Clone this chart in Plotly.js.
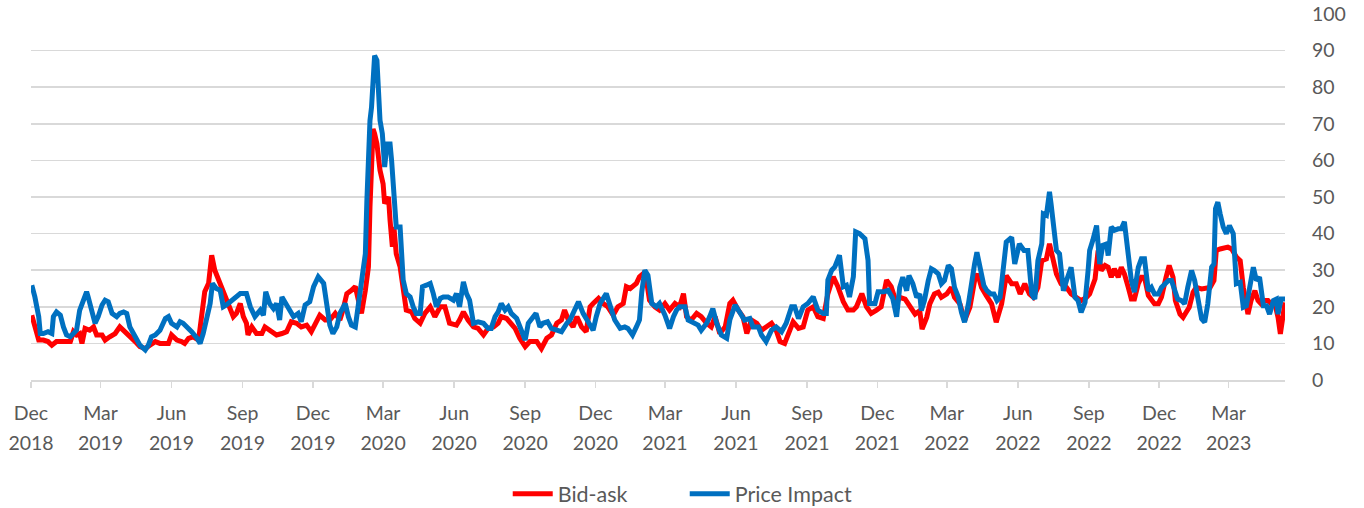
<!DOCTYPE html>
<html>
<head>
<meta charset="utf-8">
<script src="https://cdn.plot.ly/plotly-3.0.1.min.js"></script>
<style>html,body{margin:0;padding:0;background:#fff;}#chart{width:1364px;height:508px;}</style>
</head>
<body>
<div id="chart"></div>
<script>
// Days since 2018-12-01 and values
const bidAskDays = [1,5,10,16,22,27,33,40,46,51,55,59,63,66,70,76,81,85,92,96,102,109,115,122,128,135,141,148,154,161,167,174,178,182,189,195,199,204,210,217,221,225,230,234,238,243,247,251,256,262,266,
271,275,279,281,286,292,299,303,309,318,325,331,337,344,350,357,363,368,374,381,387,394,400,404,409,415,420,424,428,433,437,439,441,443,445,448,452,456,458,463,465,468,470,473,478,482,486,493,497,504,510,517,523,530,536,542,551,
555,560,566,573,579,586,592,599,605,609,616,622,627,633,640,646,655,661,668,674,681,687,691,696,702,707,713,719,724,728,735,741,747,754,760,767,771,776,780,784,788,793,797,801,808,814,821,827,834,
840,845,849,855,862,868,875,881,886,892,899,905,909,916,922,927,933,940,946,952,959,965,970,976,981,987,994,1000,1006,1013,1019,1026,1032,1039,1045,1052,1058,1065,1069,1076,1082,1088,1095,1101,1108,1114,1121,
1125,1132,1138,1145,1151,1154,1160,1164,1170,1175,1179,1186,1192,1196,1203,1209,1216,1222,1226,1231,1237,1244,1250,1257,1263,1270,1276,1281,1287,1293,1298,1304,1309,1315,1319,1324,1328,1334,1341,1347,1354,1360,1367,
1371,1378,1382,1386,1391,1395,1399,1403,1408,1412,1416,1421,1425,1429,1434,1438,1442,1447,1451,1455,1460,1464,1470,1474,1479,1482,1488,1492,1496,1500,1505,1509,1516,1522,1527,1532,1535,1540,1546,1550,1555,1561,1566,1570,1576,1580,1585,1589,1593,1598,1602,1606,1611,1615,1618,1621,1624];
const bidAskValues = [17.7,15,10.9,10.9,10.5,9.5,10.5,10.5,10.5,10.5,13.2,12.3,12.7,10,14.1,13.6,14.5,12.3,12.3,10.9,11.8,12.7,14.5,13.2,11.8,10.5,9.1,8.6,9.5,10.5,10,10,10,12.3,10.9,10.5,10,11.4,11.8,10.9,17.3,24.1,26.4,34.1,30,27.3,25.5,22.7,20.9,17.3,18.2,
20.9,17.3,15.5,12.3,14.5,12.7,12.7,14.5,13.6,12.3,12.7,13.2,15.9,15.5,14.5,15,13.2,15.5,17.7,16.4,16.4,18.2,16.4,19.1,23.6,24.5,25.5,21.8,18.2,24.5,30.9,47.3,56.4,68.6,67.3,64.5,57.3,53.6,48.2,50,43.6,36.4,41.8,34.5,30.9,25.5,19.1,18.6,16.8,15.5,18.2,20,17.3,20,20,15.5,15,
16.4,18.6,16.4,14.5,14.1,12.3,14.1,14.5,15.5,17.3,16.8,15.5,14.1,11.4,9.1,10.5,10.5,8.6,11.4,12.3,15.5,16.4,19.1,16.4,14.5,17.3,14.5,13.2,20,20.9,22.3,20.9,20,17.7,20,20.9,25.5,25,25.9,26.4,28.2,29.1,27.3,21.8,20,19.1,20.9,19.1,20.9,
20,23.6,17.3,16.4,18.2,17.3,15.5,14.5,17.3,12.7,14.5,20.9,21.8,19.1,17.3,12.7,16.4,15.5,13.6,14.5,15.5,13.6,10.5,10,12.7,15.9,14.1,14.5,19.1,20,17.3,16.8,23.6,28.2,25.5,21.4,19.1,19.1,20,23.6,20,18.2,19.1,20,27.3,25.5,20.9,
22.6,22.1,19.9,18,18.9,13.9,17.1,20.8,23.5,24,22.6,23.5,25.3,22.6,20.8,16.2,19.9,27.2,29,25.3,23.1,20.8,15.8,20.8,28.5,26.3,26.3,23.5,26.3,23.5,22.6,25.3,32.6,33.1,37.2,32.6,29,26.3,25.3,23.5,22.6,21.7,22.6,
23.5,27.6,35.4,29.9,31.3,30.8,28.1,30.4,28.1,30.8,29,25.3,22.1,22.1,26.3,28.1,28.1,23.1,21.7,20.8,20.8,22.6,28.1,31.3,28.1,21.7,18,17.1,18.5,19.9,24,25.3,24.9,25.3,25.3,27.2,35.4,35.8,36.3,36.3,35.8,33.6,32.6,25.3,18,21.7,24.4,21.7,20.8,21.7,21.7,20.8,20.8,17.1,12.6,18,21.2];

const priceImpactDays = [1,5,10,12,16,22,27,29,33,38,42,46,51,55,59,63,68,72,74,79,83,87,92,96,100,105,111,115,120,124,128,135,141,148,152,156,161,167,174,178,182,189,193,197,202,208,215,219,223,228,232,235,240,245,249,253,258,264,
271,279,284,290,297,301,304,309,314,318,322,325,331,335,340,346,350,355,361,366,372,379,383,387,391,396,400,407,411,415,420,424,428,433,435,437,439,441,443,445,448,450,452,455,458,461,465,467,470,473,478,480,482,486,491,495,499,504,507,512,517,521,525,530,534,540,547,551,
555,560,564,568,573,579,586,592,596,601,605,609,614,618,622,629,635,640,644,648,654,659,663,669,674,681,687,694,698,702,709,715,722,728,732,737,745,750,756,763,769,773,779,784,788,791,795,799,804,810,814,821,827,832,836,
840,847,851,858,864,868,875,879,883,888,894,901,905,912,918,924,931,935,942,946,952,959,965,972,978,985,989,994,1000,1006,1013,1019,1026,1030,1032,1037,1041,1047,1052,1056,1060,1065,1068,1073,1080,1084,1086,1093,1097,1104,1110,1116,1121,
1125,1129,1134,1137,1142,1147,1151,1153,1157,1162,1166,1170,1175,1179,1183,1188,1192,1196,1201,1205,1209,1214,1218,1222,1225,1230,1234,1238,1243,1247,1251,1255,1259,1263,1270,1274,1280,1286,1291,1296,1300,1304,1309,1311,1315,1319,1321,1324,1328,1332,1337,1341,1347,1352,1356,1360,1365,1369,
1371,1375,1380,1384,1388,1393,1395,1399,1403,1408,1412,1416,1421,1425,1429,1434,1438,1442,1447,1451,1455,1460,1464,1468,1473,1477,1481,1485,1490,1494,1498,1503,1507,1511,1516,1520,1524,1529,1532,1534,1537,1540,1544,1548,1552,1557,1561,1566,1570,1574,1578,1583,1587,1591,1596,1600,1604,1609,1613,1615,1619,1624];
const priceImpactValues = [25.9,22.7,17.3,12.7,12.7,13.2,12.7,17.3,18.6,17.7,14.5,12.3,11.8,12.7,13.6,19,21.8,24.1,22.7,18.2,15.5,17.3,20.5,21.8,21.4,18.2,17.3,18.2,18.6,18.2,14.5,11.8,9.5,8.2,9.5,11.8,12.3,13.6,16.8,17.3,15.5,14.5,15.9,15.5,14.5,13.2,11.4,10,12.7,17.3,20.9,26.4,25,24.5,20,20.5,21.4,22.7,
23.6,23.6,20,17.3,19.1,17.7,24.1,20.9,19.5,20.9,16.4,22.7,20.5,18.6,17.3,18.2,15.9,20.5,21.4,25.5,28.2,26.4,20.9,15,12.7,14.5,18.2,20.9,17.3,15,14.5,20,27.3,34.5,49.1,62.7,70.9,74.5,84.5,88.6,87.3,79.1,70.9,67.3,58.2,64.5,64.5,60,49.1,41.8,41.8,32.7,27.3,23.6,22.7,20,18.2,18.2,25.5,25.9,26.4,23.6,20,22.3,22.7,22.7,21.8,23.6,
20,26.8,23.6,21.8,15.5,15.9,15.5,14.1,14.1,17.3,18.6,20.9,19.1,20,18.2,16.8,13.6,10.9,15.5,16.4,18.2,14.5,15.5,15.9,14.1,13.6,13.2,15.5,16.4,18.2,21.4,18.2,15.5,13.6,17.3,20.9,23.6,20.5,16.4,14.1,14.5,14.1,12.3,14.5,16.4,24.1,30,28.6,20.9,20,20.9,17.7,14.1,17.3,19.1,
20,20,16.4,15.5,15,13.6,15.5,17.3,19.5,15.5,12.3,11.4,16.4,20.5,18.2,16.4,16.8,14.5,14.5,12.3,10.5,13.6,14.5,13.2,15.5,20,20,16.8,20,20.9,22.7,19.1,18.2,18.2,27.3,30,30.9,34.1,25.5,25.9,22.7,28.2,40.5,40,38.6,32.7,20.9,20.9,24.1,24.1,24.5,22.3,17.3,
25.3,28.1,24.4,28.5,26.3,22.6,23.5,19,21.7,27.2,30.4,29.9,29,26.3,27.2,31.3,30.4,25.3,22.6,18.5,15.8,20.8,27.2,31.7,34.9,29.9,25.8,24.4,23.5,23.5,21.7,22.6,30.8,37.7,39,31.7,37.2,35.4,35.4,23.5,22.1,32.6,37.2,45.4,45,51.4,48.2,43.6,35.4,34.5,24.4,27.2,30.8,22.6,21.7,18.5,21.2,29.9,
35.4,38.1,42.2,31.7,36.8,37.2,34,41.8,40.9,41.3,41.3,43.2,35.4,27.2,24,30.8,33.1,33.1,24.4,25.3,23.5,23.5,25.3,26.3,27.2,27.2,24,22.1,21.7,20.8,25.3,29.9,27.2,21.7,16.7,15.8,20.8,30.8,31.7,46.8,48.6,45.4,41.8,40,42.2,40,26.3,26.7,19.9,20.3,25.3,30.8,27.2,28.1,20.3,20.3,18,21.7,22.1,18,22.1,22.1];

const tickDates = ['2018-12-01','2019-03-01','2019-06-01','2019-09-01','2019-12-01','2020-03-01','2020-06-01','2020-09-01','2020-12-01','2021-03-01','2021-06-01','2021-09-01','2021-12-01','2022-03-01','2022-06-01','2022-09-01','2022-12-01','2023-03-01'];
const tickMonths = ['Dec','Mar','Jun','Sep','Dec','Mar','Jun','Sep','Dec','Mar','Jun','Sep','Dec','Mar','Jun','Sep','Dec','Mar'];
const tickYears = ['2018','2019','2019','2019','2019','2020','2020','2020','2020','2021','2021','2021','2021','2022','2022','2022','2022','2023'];
const seriesNames = ['Bid-ask','Price Impact'];

const base = Date.UTC(2018, 11, 1);
const toDate = d => new Date(base + d * 86400000).toISOString().slice(0, 10);

const fam = 'Lato, "Open Sans", sans-serif';
const font = {family: fam, size: 19.5, color: '#595959'};
const xRange = ['2018-12-01', '2023-05-13'];

const traces = [
  {x: bidAskDays.map(toDate), y: bidAskValues, name: seriesNames[0], type: 'scatter', mode: 'lines',
   line: {color: '#FF0000', width: 5}},
  {x: priceImpactDays.map(toDate), y: priceImpactValues, name: seriesNames[1], type: 'scatter', mode: 'lines',
   line: {color: '#0070C0', width: 5}}
];

const layout = {
  width: 1364, height: 508,
  margin: {l: 31, r: 79, t: 14, b: 128, autoexpand: false},
  paper_bgcolor: '#FFFFFF', plot_bgcolor: '#FFFFFF',
  font: font,
  showlegend: true,
  legend: {orientation: 'h', xref: 'container', x: 0.502, xanchor: 'center',
           yref: 'container', y: 0.028, yanchor: 'middle', entrywidth: 122,
           font: {family: fam, size: 21.5, color: '#595959'}, bgcolor: 'rgba(0,0,0,0)', itemwidth: 40},
  xaxis: {type: 'date', range: xRange, automargin: false,
          tickmode: 'array', tickvals: tickDates, ticktext: tickMonths,
          ticks: 'outside', ticklen: 6, tickcolor: '#D9D9D9', tickwidth: 1.5,
          ticklabelstandoff: 9,
          showline: true, linecolor: '#D9D9D9', linewidth: 1.5,
          showgrid: false, zeroline: false, tickangle: 0, tickfont: font},
  xaxis2: {type: 'date', range: xRange, automargin: false, overlaying: 'x', side: 'bottom', matches: 'x',
          tickmode: 'array', tickvals: tickDates, ticktext: tickYears,
          ticks: '', ticklabelstandoff: 49,
          showline: false, showgrid: false, zeroline: false, tickangle: 0, tickfont: font},
  yaxis: {side: 'right', range: [0, 100], dtick: 10, tick0: 0, automargin: false,
          showgrid: true, gridcolor: '#D9D9D9', gridwidth: 1.5,
          zeroline: false, showline: false, ticks: '', ticklabelstandoff: 26,
          tickfont: font}
};

// invisible helper trace so the year-row axis is drawn
traces.push({x: [tickDates[0]], y: [null], xaxis: 'x2', yaxis: 'y', showlegend: false, hoverinfo: 'skip',
             type: 'scatter', mode: 'lines'});

Plotly.newPlot('chart', traces, layout, {displayModeBar: false, staticPlot: true});
</script>
</body>
</html>
